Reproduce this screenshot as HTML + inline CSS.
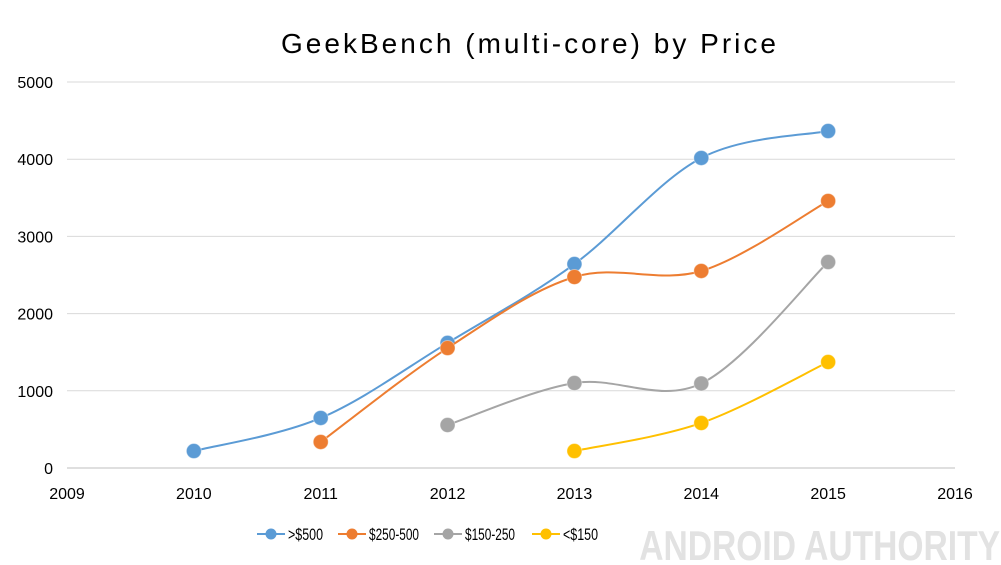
<!DOCTYPE html>
<html><head><meta charset="utf-8"><style>
body{margin:0;background:#fff;}
svg{display:block;font-family:"Liberation Sans",Calibri,sans-serif;}
</style></head><body>
<svg id="chart" width="1001" height="565">
<text x="281" y="53" textLength="495" font-size="28" fill="#000">GeekBench (multi-core) by Price</text>
<g id="grid"></g><g id="axes"></g><g id="series"></g><g id="legend"></g>
<text x="1000" y="560" text-anchor="end" font-size="42" font-weight="bold" fill="#e2e2e2" transform="translate(1000,0) scale(0.8,1) translate(-1000,0)">ANDROID AUTHORITY</text>
</svg>
<script>
const years=[2010,2011,2012,2013,2014,2015];
const xTicks=[2009,2010,2011,2012,2013,2014,2015,2016];
const yTicks=[0,1000,2000,3000,4000,5000];
const seriesNames=[">$500","$250-500","$150-250","<$150"];
const seriesColors=["#5b9bd5","#ed7d31","#a5a5a5","#ffc000"];
const over500=[220,648,1620,2642,4016,4365];
const s250to500=[null,337,1554,2474,2552,3459];
const s150to250=[null,null,557,1101,1095,2668];
const under150=[null,null,null,220,583,1373];
const allSeries=[over500,s250to500,s150to250,under150];
const NS="http://www.w3.org/2000/svg";
const X=v=>67+(v-2009)*(955-67)/7;
const Y=v=>468-v*(468-82)/5000;
function mk(t,a,p){const e=document.createElementNS(NS,t);for(const k in a)e.setAttribute(k,a[k]);p.appendChild(e);return e;}
const grid=document.getElementById('grid'),axes=document.getElementById('axes');
yTicks.forEach(v=>{
 const l=mk('line',{x1:67,x2:955,y1:Y(v),y2:Y(v),stroke:v==0?'#bfbfbf':'#d9d9d9','stroke-width':1},grid);
 
 
 const t=mk('text',{x:53,y:Y(v)+6,'text-anchor':'end','font-size':16,fill:'#000'},axes);
 t.textContent=v;
 
 
});
xTicks.forEach(v=>{
 const t=mk('text',{x:X(v),y:499,'text-anchor':'middle','font-size':16,fill:'#000'},axes);
 t.textContent=v;
 
 
});
const sg=document.getElementById('series');
allSeries.forEach((data,si)=>{
 const pts=[];data.forEach((v,i)=>{if(v!=null)pts.push([X(years[i]),Y(v)]);});
 let d='M'+pts[0][0]+','+pts[0][1];
 for(let i=0;i<pts.length-1;i++){
  const p0=pts[Math.max(0,i-1)],p1=pts[i],p2=pts[i+1],p3=pts[Math.min(pts.length-1,i+2)];
  const c1=[p1[0]+(p2[0]-p0[0])/6,p1[1]+(p2[1]-p0[1])/6];
  const c2=[p2[0]-(p3[0]-p1[0])/6,p2[1]-(p3[1]-p1[1])/6];
  d+=` C${c1[0]},${c1[1]} ${c2[0]},${c2[1]} ${p2[0]},${p2[1]}`;
 }
 const path=mk('path',{d:d,fill:'none',stroke:seriesColors[si],'stroke-width':2},sg);
 
 
 pts.forEach(p=>{
  const c=mk('circle',{cx:p[0],cy:p[1],r:7.5,fill:seriesColors[si],stroke:'#fff','stroke-opacity':0.4,'stroke-width':1},sg);
  
  
 });
});
const lg=document.getElementById('legend');
const lx=[257,338,434,532];
const lw=[35,50,50,35];
seriesNames.forEach((n,i)=>{
 const g=mk('g',{},lg);
 
 
 mk('line',{x1:lx[i],x2:lx[i]+28,y1:534,y2:534,stroke:seriesColors[i],'stroke-width':2},g);
 mk('circle',{cx:lx[i]+14,cy:534,r:5.5,fill:seriesColors[i]},g);
 const t=mk('text',{x:lx[i]+31,y:540,'font-size':17,fill:'#000',textLength:lw[i],lengthAdjust:'spacingAndGlyphs'},g);
 t.textContent=n;
});
</script>
</body></html>
